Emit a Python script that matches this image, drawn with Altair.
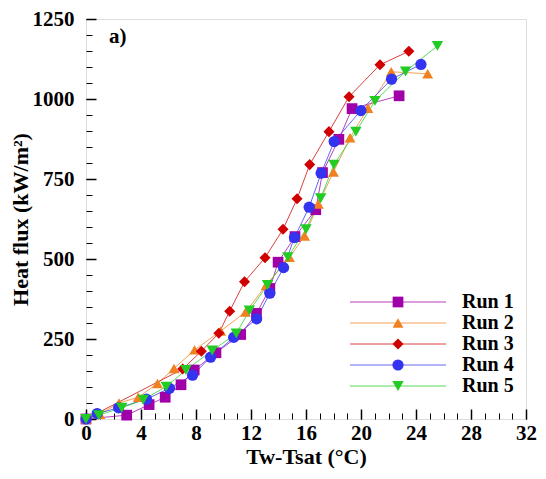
import altair as alt
import pandas as pd

runs = ["Run 1", "Run 2", "Run 3", "Run 4", "Run 5"]
colors = ["#A000A8", "#F08020", "#D00000", "#3333F0", "#22CC22"]
shapes = ["square", "triangle-up", "diamond", "circle", "triangle-down"]
sizes = [115, 130, 190, 135, 130]

run1_x = [0, 2.96, 4.59, 5.76, 6.91, 7.87, 9.45, 11.25, 12.4, 13.37, 13.97, 15.2, 16.71, 17.2, 18.39, 19.35, 22.77]
run1_y = [0, 12, 45, 68, 107, 153, 207, 264, 330, 408, 490, 570, 654, 770, 874, 970, 1010]
run2_x = [0, 1.0, 2.4, 3.8, 5.2, 6.4, 7.9, 9.8, 11.6, 13.1, 14.8, 15.9, 16.9, 18.0, 19.2, 20.5, 22.2, 24.85]
run2_y = [0, 15, 50, 68, 111, 158, 216, 275, 334, 418, 505, 572, 672, 772, 879, 971, 1085, 1079]
run3_x = [0, 7.03, 8.39, 9.66, 10.45, 11.53, 13.02, 14.33, 15.35, 16.27, 17.67, 19.13, 21.38, 23.48]
run3_y = [0, 156, 212, 268, 337, 429, 504, 593, 688, 795, 898, 1007, 1107, 1149]
run4_x = [0, 0.81, 2.37, 4.4, 6.07, 7.75, 9.06, 10.74, 12.41, 13.37, 14.37, 15.16, 16.23, 17.1, 18.05, 19.99, 22.22, 24.36]
run4_y = [0, 17, 35, 62, 96, 137, 193, 255, 313, 393, 473, 567, 662, 768, 867, 964, 1062, 1108]
run5_x = [0, 0.93, 2.6, 4.16, 5.83, 7.27, 9.18, 10.93, 11.88, 13.2, 14.68, 16.0, 17.07, 18.03, 19.63, 21.02, 23.24, 25.56]
run5_y = [0, 12, 35, 60, 101, 153, 214, 267, 339, 419, 506, 593, 690, 795, 898, 994, 1086, 1166]

x_major = [0, 4, 8, 12, 16, 20, 24, 28, 32]
x_minor = list(range(0, 33))
y_major = [0, 250, 500, 750, 1000, 1250]
y_minor = list(range(0, 1251, 50))

xs = [run1_x, run2_x, run3_x, run4_x, run5_x]
ys = [run1_y, run2_y, run3_y, run4_y, run5_y]
rows = []
for r, xl, yl in zip(runs, xs, ys):
    for i, (a, b) in enumerate(zip(xl, yl)):
        rows.append({"run": r, "dt": a, "q": b, "i": i})
df = pd.DataFrame(rows)
leg = pd.DataFrame({"run": runs})

FONT = "Liberation Serif"
W, H = 440, 400

xscale = alt.Scale(domain=[0, 32], nice=False, zero=False)
yscale = alt.Scale(domain=[0, 1250], nice=False, zero=False)
cscale = alt.Scale(domain=runs, range=colors)
sscale = alt.Scale(domain=runs, range=shapes)
zscale = alt.Scale(domain=runs, range=sizes)

x_main = alt.X("dt:Q", scale=xscale, title="Tw-Tsat (°C)",
               axis=alt.Axis(orient="bottom", values=x_major, tickSize=10, offset=-10, labelPadding=3,
                             domain=False, grid=False, tickColor="black", tickWidth=1.5,
                             labelFont=FONT, labelFontWeight="bold", labelFontSize=21,
                             labelColor="black", titleFont=FONT, titleFontWeight="bold",
                             titleFontSize=22, titleColor="black", titlePadding=3,
                             labelFlush=False, format="d"))
y_main = alt.Y("q:Q", scale=yscale, title="Heat flux (kW/m²)",
               axis=alt.Axis(orient="left", values=y_major, tickSize=10, offset=-10, labelPadding=12,
                             domain=False, grid=False, tickColor="black", tickWidth=1.5,
                             labelFont=FONT, labelFontWeight="bold", labelFontSize=21,
                             labelColor="black", titleFont=FONT, titleFontWeight="bold",
                             titleFontSize=22, titleColor="black", titlePadding=0,
                             labelFlush=False, format="d"))

lines = alt.Chart(df).mark_line(strokeWidth=1, opacity=0.75).encode(
    x=x_main, y=y_main, detail="run:N", order="i:Q",
    color=alt.Color("run:N", scale=cscale, legend=None))

points = alt.Chart(df).mark_point(filled=True, opacity=1).encode(
    x=alt.X("dt:Q", scale=xscale, axis=None),
    y=alt.Y("q:Q", scale=yscale, axis=None),
    color=alt.Color("run:N", scale=cscale, legend=None),
    shape=alt.Shape("run:N", scale=sscale, legend=None),
    size=alt.Size("run:N", scale=zscale, legend=None))

minor = alt.Chart(df).mark_point(opacity=0).encode(
    x=alt.X("dt:Q", scale=xscale, title=None,
            axis=alt.Axis(orient="bottom", values=x_minor, tickSize=6, offset=-6, labels=False,
                          domain=False, grid=False, tickColor="black", tickWidth=1)),
    y=alt.Y("q:Q", scale=yscale, title=None,
            axis=alt.Axis(orient="left", values=y_minor, tickSize=6, offset=-6, labels=False,
                          domain=False, grid=False, tickColor="black", tickWidth=1)))

label = alt.Chart(pd.DataFrame({"t": ["a)"]})).mark_text(
    font=FONT, fontWeight="bold", fontSize=21, align="left", baseline="middle", color="black"
).encode(x=alt.value(23), y=alt.value(18), text="t:N")

main = alt.layer(minor, lines, points, label).resolve_axis(x="independent", y="independent")

ly = alt.Y("run:N", scale=alt.Scale(type="point", domain=runs, range=[283, 367], padding=0),
           axis=None)
leg_rule = alt.Chart(leg).mark_rule(strokeWidth=1, opacity=0.75).encode(
    x=alt.value(264), x2=alt.value(360), y=ly,
    color=alt.Color("run:N", scale=cscale, legend=None))
leg_pt = alt.Chart(leg).mark_point(filled=True, opacity=1).encode(
    x=alt.value(312), y=ly,
    color=alt.Color("run:N", scale=cscale, legend=None),
    shape=alt.Shape("run:N", scale=sscale, legend=None),
    size=alt.Size("run:N", scale=zscale, legend=None))
leg_txt = alt.Chart(leg).mark_text(font=FONT, fontWeight="bold", fontSize=20, align="left",
                                   baseline="middle", color="black").encode(
    x=alt.value(376), y=ly, text="run:N")
legend = alt.layer(leg_rule, leg_pt, leg_txt)

chart = alt.layer(main, legend).resolve_scale(y="independent").properties(
    width=W, height=H,
    autosize=alt.AutoSizeParams(type="none"),
    padding={"left": 78, "top": 11, "right": 12, "bottom": 52},
).configure_view(stroke="black", strokeWidth=2).configure(background="white")

chart.save("out.html", embed_options={"renderer": "svg", "actions": False})
